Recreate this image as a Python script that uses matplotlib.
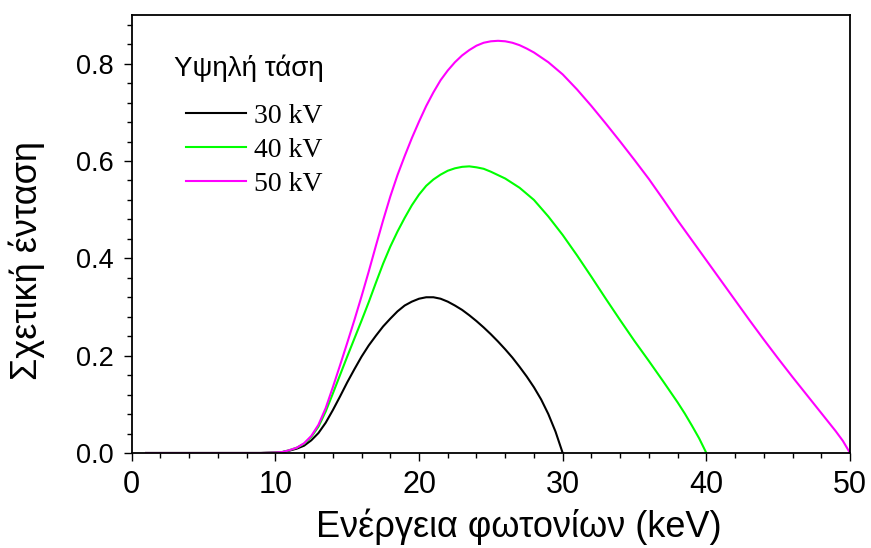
import numpy as np
import matplotlib.pyplot as plt
from matplotlib.ticker import MultipleLocator

# photon energy grid (keV); below 10 keV everything is absorbed
e_low = [1, 2, 3, 4, 5, 6, 7, 8, 9]
zeros_low = [0.0] * len(e_low)

# 30 kV spectrum
energy_30 = e_low + list(np.arange(10, 30.01, 0.5))
int_30 = zeros_low + [0.001, 0.002, 0.005, 0.009, 0.015, 0.026, 0.041, 0.062, 0.088, 0.116,
                      0.145, 0.172, 0.198, 0.221, 0.241, 0.260, 0.276, 0.291, 0.303, 0.311,
                      0.317, 0.320, 0.320, 0.317, 0.311, 0.303, 0.294, 0.283, 0.271, 0.258,
                      0.244, 0.229, 0.213, 0.196, 0.177, 0.157, 0.135, 0.110, 0.080, 0.044,
                      0.0]

# 40 kV spectrum
energy_40 = (e_low + list(np.arange(10, 25.01, 0.5)) + list(range(26, 39))
             + [38.5, 39, 39.5, 40])
int_40 = zeros_low + [0.001, 0.002, 0.006, 0.011, 0.019, 0.033, 0.054, 0.085, 0.122, 0.160,
                      0.198, 0.235, 0.272, 0.310, 0.350, 0.389, 0.424, 0.455, 0.483, 0.509,
                      0.531, 0.549, 0.562, 0.572, 0.580, 0.585, 0.588, 0.589, 0.587, 0.584,
                      0.578,
                      0.564, 0.545, 0.520, 0.486, 0.448, 0.406, 0.362, 0.317, 0.273, 0.230,
                      0.189, 0.147, 0.104,
                      0.081, 0.056, 0.030, 0.0]

# 50 kV spectrum
energy_50 = (e_low + list(np.arange(10, 28.01, 0.5)) + list(range(29, 50))
             + [49.5, 50])
int_50 = zeros_low + [0.001, 0.002, 0.006, 0.011, 0.020, 0.035, 0.058, 0.092, 0.135, 0.180,
                      0.226, 0.273, 0.322, 0.373, 0.426, 0.478, 0.527, 0.571, 0.610, 0.647,
                      0.681, 0.713, 0.741, 0.766, 0.786, 0.803, 0.817, 0.828, 0.837, 0.843,
                      0.846, 0.847, 0.846, 0.843, 0.838, 0.831, 0.823,
                      0.803, 0.778, 0.747, 0.713, 0.677, 0.640, 0.602, 0.563, 0.521, 0.478,
                      0.437, 0.396, 0.355, 0.314, 0.273, 0.233, 0.194, 0.156, 0.119, 0.082,
                      0.045,
                      0.025, 0.0]

labels = ["30 kV", "40 kV", "50 kV"]
colors = ["black", "#00ff00", "#ff00ff"]

plt.rcParams["font.family"] = ["Liberation Sans", "DejaVu Sans"]

fig = plt.figure(figsize=(8.71, 5.48), dpi=100)
ax = fig.add_axes([0.1512, 0.1734, 0.8247, 0.7992])

series = [(energy_30, int_30), (energy_40, int_40), (energy_50, int_50)]
for (e, v), lab, col in zip(series, labels, colors):
    ax.plot(e, v, color=col, lw=1.5, label=lab, solid_joinstyle="round")

ax.set_xlim(0, 50)
ax.set_ylim(0, 0.9)
ax.xaxis.set_major_locator(MultipleLocator(10))
ax.xaxis.set_minor_locator(MultipleLocator(2))
ax.yaxis.set_major_locator(MultipleLocator(0.2))
ax.yaxis.set_minor_locator(MultipleLocator(0.04))
ax.yaxis.set_major_formatter(plt.FuncFormatter(lambda v, p: f"{v:.1f}"))

ax.tick_params(which="major", direction="out", length=6, width=1.0)
ax.tick_params(which="minor", direction="out", length=3.5, width=1.0)
ax.tick_params(axis="x", which="major", labelsize=22, pad=6.5)
ax.tick_params(axis="y", which="major", labelsize=19.5, pad=7)
for s in ax.spines.values():
    s.set_linewidth(1.3)

ax.set_xlabel("Ενέργεια φωτονίων (keV)", fontsize=26)
ax.set_ylabel("Σχετική ένταση", fontsize=26)
ax.xaxis.set_label_coords(0.539, -0.127)
ax.yaxis.set_label_coords(-0.121, 0.44)

leg = ax.legend(loc="upper left", bbox_to_anchor=(0.059, 0.909), frameon=False,
                title="Υψηλή τάση", alignment="left",
                prop={"family": "Liberation Serif", "size": 20},
                title_fontproperties={"family": "Liberation Sans", "size": 20},
                handlelength=2.15, handletextpad=0.32, labelspacing=0.32,
                borderpad=0, borderaxespad=0)
# indent the entries a little under the title
leg._legend_handle_box.pad = 8.5

fig.savefig("out.png", dpi=100)
